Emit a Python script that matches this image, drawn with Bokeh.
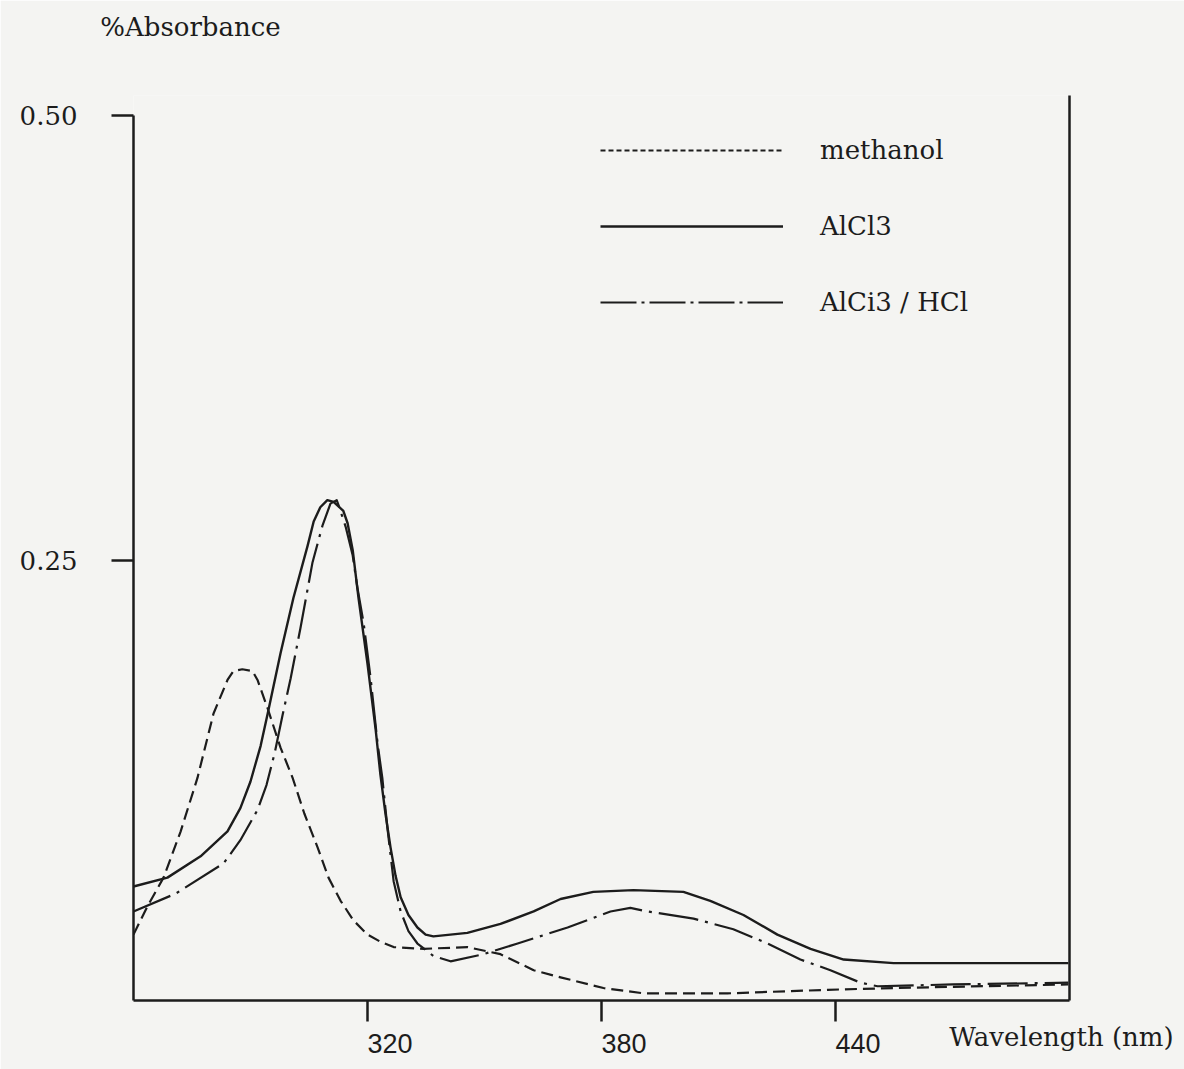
from bokeh.plotting import figure
from bokeh.models import (Range1d, LinearAxis, FixedTicker, PrintfTickFormatter,
                          Legend, LegendItem)
from bokeh.embed import file_html
from bokeh.resources import INLINE

# ---- data ----
methanol_nm = [260.0, 263.6, 267.7, 272.1, 276.4, 280.5, 284.1, 285.6, 287.9, 290.5,
               291.8, 294.4, 297.7, 300.8, 303.8, 307.2, 310.0, 313.1, 316.4, 320.0,
               323.3, 326.7, 334.4, 345.6, 354.1, 362.6, 369.5, 380.5, 390.8, 412.3,
               438.0, 454.9, 499.7]
methanol_abs = [0.040, 0.056, 0.072, 0.098, 0.128, 0.164, 0.183, 0.188, 0.189, 0.188,
                0.183, 0.167, 0.145, 0.128, 0.108, 0.089, 0.072, 0.059, 0.048, 0.040,
                0.036, 0.033, 0.032, 0.033, 0.029, 0.020, 0.016, 0.010, 0.007, 0.007,
                0.009, 0.010, 0.012]

alcl3_nm = [260.0, 268.7, 277.2, 284.1, 287.4, 290.0, 292.6, 294.4, 297.7, 301.0,
            304.6, 306.2, 307.9, 309.7, 311.3, 313.8, 314.9, 316.2, 317.7, 320.0,
            322.1, 323.3, 324.6, 325.9, 327.2, 328.5, 330.5, 332.8, 334.9, 336.9,
            345.6, 354.1, 362.6, 369.5, 377.9, 388.2, 401.0, 407.9, 416.4, 425.1,
            433.6, 442.1, 454.9, 472.1, 499.7]
alcl3_abs = [0.067, 0.072, 0.084, 0.098, 0.111, 0.126, 0.146, 0.164, 0.198, 0.229,
             0.258, 0.272, 0.280, 0.284, 0.283, 0.278, 0.271, 0.256, 0.229, 0.192,
             0.155, 0.130, 0.108, 0.089, 0.073, 0.061, 0.051, 0.044, 0.040, 0.039,
             0.041, 0.046, 0.053, 0.060, 0.064, 0.065, 0.064, 0.059, 0.051, 0.040,
             0.032, 0.026, 0.024, 0.024, 0.024]

hcl_nm = [260.0, 270.8, 283.1, 287.4, 291.8, 294.1, 296.2, 298.2, 300.3, 302.8,
          305.9, 308.5, 310.5, 312.1, 312.6, 314.4, 316.2, 317.4, 319.0, 320.8,
          322.6, 323.8, 325.1, 326.7, 328.5, 330.5, 332.8, 336.9, 341.3, 349.7,
          358.5, 371.3, 382.3, 387.4, 391.8, 403.6, 413.8, 422.6, 431.0, 438.7,
          446.4, 450.8, 470.0, 499.7]
hcl_abs = [0.053, 0.063, 0.080, 0.093, 0.110, 0.124, 0.142, 0.163, 0.184, 0.212,
           0.249, 0.270, 0.282, 0.284, 0.281, 0.269, 0.253, 0.235, 0.215, 0.184,
           0.147, 0.128, 0.100, 0.070, 0.053, 0.042, 0.035, 0.028, 0.025, 0.029,
           0.035, 0.044, 0.053, 0.055, 0.053, 0.049, 0.043, 0.035, 0.026, 0.020,
           0.013, 0.011, 0.012, 0.013]

x_ticks = [320, 380, 440]
y_ticks = [0.25, 0.50]
series_labels = ["methanol", "AlCl3", "AlCi3 / HCl"]
x_title = "Wavelength (nm)"
y_title = "%Absorbance"

INK = "#1c1c1c"
PAPER = "#f4f4f2"
SERIF = "DejaVu Serif"
PX_PER_NM = 3.9
FRAME_LEFT_PX = 133


def nm_at_px(px):
    """Wavelength under a given page pixel column (placement of the two axis titles)."""
    return round(260 + (px - FRAME_LEFT_PX) / PX_PER_NM, 3)


p = figure(frame_width=936, frame_height=905,
           min_border_left=FRAME_LEFT_PX, min_border_right=115,
           min_border_top=95, min_border_bottom=69,
           x_range=Range1d(260, 500), y_range=Range1d(0.003, 0.5112),
           output_backend="svg", toolbar_location=None,
           x_axis_location=None, y_axis_location=None)
p.background_fill_color = PAPER
p.border_fill_color = PAPER
p.outline_line_color = None
p.xgrid.visible = False
p.ygrid.visible = False

# top: y title "%Absorbance" carried by a bare axis label at the top-left
ytitle_pos = nm_at_px(190)
ta = LinearAxis(ticker=FixedTicker(ticks=[ytitle_pos]))
ta.major_label_overrides = {ytitle_pos: y_title}
ta.axis_line_color = None
ta.major_tick_line_color = None
ta.minor_tick_line_color = None
ta.major_tick_out = 0
ta.major_tick_in = 0
ta.major_label_standoff = 54
ta.major_label_text_font = SERIF
ta.major_label_text_font_size = "26px"
ta.major_label_text_color = INK
p.add_layout(ta, "above")

# bottom axis: line, tick marks and tick labels (labels start at the tick, as printed)
xa = LinearAxis(ticker=FixedTicker(ticks=x_ticks))
xa.axis_line_width = 2.5
xa.axis_line_color = INK
xa.major_tick_line_width = 2.5
xa.major_tick_line_color = INK
xa.major_tick_out = 21
xa.major_tick_in = 0
xa.minor_tick_line_color = None
xa.major_label_orientation = -0.0001
xa.major_label_standoff = 22
xa.major_label_text_font = "Liberation Sans"
xa.major_label_text_font_size = "27px"
xa.major_label_text_color = INK
p.add_layout(xa, "below")

# second bottom axis carrying only the axis title at the right end
xtitle_pos = nm_at_px(1061)
xl = LinearAxis(ticker=FixedTicker(ticks=[xtitle_pos]))
xl.major_label_overrides = {xtitle_pos: x_title}
xl.axis_line_color = None
xl.major_tick_line_color = None
xl.minor_tick_line_color = None
xl.major_tick_out = 0
xl.major_tick_in = 0
xl.major_label_standoff = -44
xl.major_label_text_font = SERIF
xl.major_label_text_font_size = "26px"
xl.major_label_text_color = INK
p.add_layout(xl, "below")

# left axis
ya = LinearAxis(ticker=FixedTicker(ticks=y_ticks), formatter=PrintfTickFormatter(format="%.2f"))
ya.bounds = (0.003, 0.5)
ya.axis_line_width = 2.5
ya.axis_line_color = INK
ya.major_tick_line_width = 2.5
ya.major_tick_line_color = INK
ya.major_tick_out = 22
ya.major_tick_in = 0
ya.minor_tick_line_color = None
ya.major_label_text_font = SERIF
ya.major_label_text_font_size = "26px"
ya.major_label_text_color = INK
ya.major_label_standoff = 34
p.add_layout(ya, "left")

# right border line
ra = LinearAxis(ticker=FixedTicker(ticks=[]))
ra.axis_line_width = 2.5
ra.axis_line_color = INK
ra.minor_tick_line_color = None
ra.major_tick_line_color = None
p.add_layout(ra, "right")

# curves
p.line(methanol_nm, methanol_abs, line_color=INK, line_width=2.2, line_dash="12 6",
       line_join="round")
p.line(alcl3_nm, alcl3_abs, line_color=INK, line_width=2.4, line_join="round")
p.line(hcl_nm, hcl_abs, line_color=INK, line_width=2.2, line_dash="40 7 3 7",
       line_join="round")

# legend samples (renderers kept out of the visible range; only their legend swatch shows)
lg1 = p.line([0, 1], [0, 0], line_color=INK, line_width=2.0, line_dash="5 3")
lg2 = p.line([0, 1], [0, 0], line_color=INK, line_width=2.4)
lg3 = p.line([0, 1], [0, 0], line_color=INK, line_width=2.2, line_dash="36 5 3 5")

legend = Legend(items=[LegendItem(label=series_labels[0], renderers=[lg1]),
                       LegendItem(label=series_labels[1], renderers=[lg2]),
                       LegendItem(label=series_labels[2], renderers=[lg3])],
                location=(467, 683), orientation="vertical",
                glyph_width=183, glyph_height=30, label_height=30,
                spacing=46, padding=0, margin=0, label_standoff=37,
                label_text_font=SERIF, label_text_font_size="26px",
                label_text_color=INK, border_line_color=None,
                background_fill_alpha=0)
p.add_layout(legend)

open("out.html", "w").write(file_html(p, INLINE))
